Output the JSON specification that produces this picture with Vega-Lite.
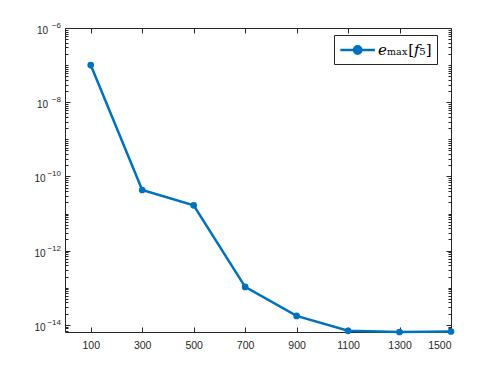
{
  "$schema": "https://vega.github.io/schema/vega-lite/v6.json",
  "width": 386,
  "height": 304,
  "autosize": {"type": "none"},
  "padding": {"left": 65, "top": 28, "right": 47, "bottom": 42},
  "background": "white",
  "config": {
    "view": {"stroke": null},
    "axis": {
      "labelFont": "Liberation Sans",
      "labelFontSize": 10.5,
      "labelColor": "#262626",
      "domainColor": "#262626",
      "tickColor": "#262626",
      "domainWidth": 1,
      "tickWidth": 1,
      "grid": false,
      "title": null
    }
  },
  "datasets": {
    "pts": [
      {"n": 100, "err": 1.0e-7, "series": "𝑒ₘₐₓ[𝑓₅]"},
      {"n": 300, "err": 4.3e-11, "series": "𝑒ₘₐₓ[𝑓₅]"},
      {"n": 500, "err": 1.66e-11, "series": "𝑒ₘₐₓ[𝑓₅]"},
      {"n": 700, "err": 1.05e-13, "series": "𝑒ₘₐₓ[𝑓₅]"},
      {"n": 900, "err": 1.74e-14, "series": "𝑒ₘₐₓ[𝑓₅]"},
      {"n": 1100, "err": 6.9e-15, "series": "𝑒ₘₐₓ[𝑓₅]"},
      {"n": 1300, "err": 6.4e-15, "series": "𝑒ₘₐₓ[𝑓₅]"},
      {"n": 1500, "err": 6.6e-15, "series": "𝑒ₘₐₓ[𝑓₅]"}
    ]
  },
  "data": {"name": "pts"},
  "resolve": {"axis": {"x": "independent", "y": "independent"}},
  "layer": [
    {
      "mark": {"type": "line", "strokeWidth": 2.5},
      "encoding": {
        "x": {
          "field": "n", "type": "quantitative",
          "scale": {"domain": [0, 1500], "nice": false, "zero": false},
          "axis": {"orient": "bottom", "values": [100, 300, 500, 700, 900, 1100, 1300, 1500], "format": "d", "tickSize": -5, "labelPadding": 13}
        },
        "y": {
          "field": "err", "type": "quantitative",
          "scale": {"type": "log", "domain": [6.4e-15, 1e-6], "nice": false},
          "axis": {
            "orient": "left",
            "ticks": false,
            "labelFontSize": 10,
            "values": [1e-14, 1e-12, 1e-10, 1e-8, 1e-6],
            "labelExpr": "'10'",
            "labelOffset": 2.5,
            "labelPadding": {"expr": "datum.value < 1e-9 ? 20 : 17.5"}
          }
        },
        "color": {
          "field": "series", "type": "nominal",
          "scale": {"range": ["#0072BD"]},
          "legend": {
            "title": null,
            "orient": "none",
            "legendX": 269,
            "legendY": 7,
            "fillColor": "white",
            "strokeColor": "#262626",
            "padding": 5,
            "symbolType": "M-1,0H3M0.58,0A0.42,0.42 0 1,0 1.42,0A0.42,0.42 0 1,0 0.58,0Z",
            "symbolSize": 300,
            "symbolStrokeWidth": 2.5,
            "symbolFillColor": "#0072BD",
            "symbolStrokeColor": "#0072BD",
            "labelFont": "DejaVu Serif",
            "labelFontSize": 15,
            "labelColor": "#000000",
            "labelOffset": 19
          }
        }
      }
    },
    {
      "mark": {"type": "point", "filled": true, "size": 45, "opacity": 1},
      "encoding": {
        "x": {
          "field": "n", "type": "quantitative",
          "scale": {"domain": [0, 1500], "nice": false, "zero": false},
          "axis": {"orient": "top", "values": [100, 300, 500, 700, 900, 1100, 1300, 1500], "tickSize": -5, "labels": false}
        },
        "y": {
          "field": "err", "type": "quantitative",
          "scale": {"type": "log", "domain": [6.4e-15, 1e-6], "nice": false},
          "axis": {
            "orient": "right",
            "labels": false,
            "values": [7e-15, 8e-15, 9e-15,
              1e-14, 2e-14, 3e-14, 4e-14, 5e-14, 6e-14, 7e-14, 8e-14, 9e-14,
              1e-13, 2e-13, 3e-13, 4e-13, 5e-13, 6e-13, 7e-13, 8e-13, 9e-13,
              1e-12, 2e-12, 3e-12, 4e-12, 5e-12, 6e-12, 7e-12, 8e-12, 9e-12,
              1e-11, 2e-11, 3e-11, 4e-11, 5e-11, 6e-11, 7e-11, 8e-11, 9e-11,
              1e-10, 2e-10, 3e-10, 4e-10, 5e-10, 6e-10, 7e-10, 8e-10, 9e-10,
              1e-9, 2e-9, 3e-9, 4e-9, 5e-9, 6e-9, 7e-9, 8e-9, 9e-9,
              1e-8, 2e-8, 3e-8, 4e-8, 5e-8, 6e-8, 7e-8, 8e-8, 9e-8,
              1e-7, 2e-7, 3e-7, 4e-7, 5e-7, 6e-7, 7e-7, 8e-7, 9e-7, 1e-6],
            "tickSize": {"expr": "abs(log(datum.value)/LN10 - round(log(datum.value)/LN10)) < 0.001 && round(log(datum.value)/LN10) % 2 == 0 ? -5 : -3"}
          }
        },
        "color": {"field": "series", "type": "nominal", "scale": {"range": ["#0072BD"]}, "legend": null}
      }
    },
    {
      "mark": {"type": "point", "opacity": 0},
      "encoding": {
        "x": {"field": "n", "type": "quantitative", "scale": {"domain": [0, 1500], "nice": false, "zero": false}, "axis": null},
        "y": {
          "field": "err", "type": "quantitative",
          "scale": {"type": "log", "domain": [6.4e-15, 1e-6], "nice": false},
          "axis": {
            "orient": "left",
            "ticks": false,
            "domain": false,
            "labelFontSize": 8,
            "values": [1e-14, 1e-12, 1e-10, 1e-8, 1e-6],
            "labelExpr": "datum.value < 1e-13 ? '−14' : datum.value < 1e-11 ? '−12' : datum.value < 1e-9 ? '−10' : datum.value < 1e-7 ? '−8' : '−6'",
            "labelOffset": -2.5,
            "labelPadding": 4.5
          }
        }
      }
    },
    {
      "mark": {"type": "point", "opacity": 0},
      "encoding": {
        "x": {"field": "n", "type": "quantitative", "scale": {"domain": [0, 1500], "nice": false, "zero": false}, "axis": null},
        "y": {
          "field": "err", "type": "quantitative",
          "scale": {"type": "log", "domain": [6.4e-15, 1e-6], "nice": false},
          "axis": {
            "orient": "left",
            "labels": false,
            "domain": false,
            "values": [7e-15, 8e-15, 9e-15,
              1e-14, 2e-14, 3e-14, 4e-14, 5e-14, 6e-14, 7e-14, 8e-14, 9e-14,
              1e-13, 2e-13, 3e-13, 4e-13, 5e-13, 6e-13, 7e-13, 8e-13, 9e-13,
              1e-12, 2e-12, 3e-12, 4e-12, 5e-12, 6e-12, 7e-12, 8e-12, 9e-12,
              1e-11, 2e-11, 3e-11, 4e-11, 5e-11, 6e-11, 7e-11, 8e-11, 9e-11,
              1e-10, 2e-10, 3e-10, 4e-10, 5e-10, 6e-10, 7e-10, 8e-10, 9e-10,
              1e-9, 2e-9, 3e-9, 4e-9, 5e-9, 6e-9, 7e-9, 8e-9, 9e-9,
              1e-8, 2e-8, 3e-8, 4e-8, 5e-8, 6e-8, 7e-8, 8e-8, 9e-8,
              1e-7, 2e-7, 3e-7, 4e-7, 5e-7, 6e-7, 7e-7, 8e-7, 9e-7, 1e-6],
            "tickSize": {"expr": "abs(log(datum.value)/LN10 - round(log(datum.value)/LN10)) < 0.001 && round(log(datum.value)/LN10) % 2 == 0 ? -5 : -3"}
          }
        }
      }
    }
  ]
}
